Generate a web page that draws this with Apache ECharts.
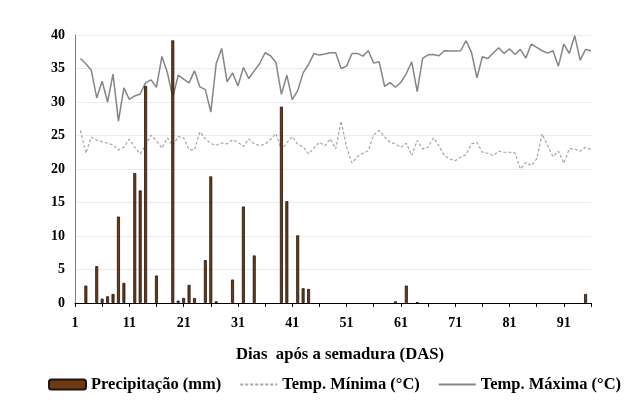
<!DOCTYPE html>
<html><head><meta charset="utf-8">
<script src="https://cdn.jsdelivr.net/npm/echarts@6/dist/echarts.min.js"></script>
<style>html,body{margin:0;padding:0;background:#fff}#c{width:636px;height:405px}</style>
</head><body><div id="c"></div>
<script>
const days = ['1','2','3','4','5','6','7','8','9','10','11','12','13','14','15','16','17','18','19','20',
'21','22','23','24','25','26','27','28','29','30','31','32','33','34','35','36','37','38','39','40',
'41','42','43','44','45','46','47','48','49','50','51','52','53','54','55','56','57','58','59','60',
'61','62','63','64','65','66','67','68','69','70','71','72','73','74','75','76','77','78','79','80',
'81','82','83','84','85','86','87','88','89','90','91','92','93','94','95','96'];

const precipitacao = [
null,null,2.6,null,5.5,0.65,1.0,1.35,12.9,3.0,
null,19.4,16.8,32.4,null,4.1,null,null,39.2,0.35,
0.75,2.7,0.75,null,6.4,18.9,0.25,null,null,3.5,
null,14.4,null,7.1,null,null,null,null,29.3,15.2,
null,10.1,2.2,2.1,null,null,null,null,null,null,
null,null,null,null,null,null,null,null,null,0.25,
null,2.6,null,0.15,null,null,null,null,null,null,
null,null,null,null,null,null,null,null,null,null,
null,null,null,null,null,null,null,null,null,null,
null,null,null,null,1.35,null];

const tempMaxima = [
null,36.5,35.7,34.75,30.6,33.1,30.0,34.15,27.15,32.1,
30.4,30.9,31.2,32.9,33.3,32.2,36.8,34.4,30.7,34.0,
33.4,32.85,34.65,32.25,31.85,28.5,35.75,38.0,33.0,34.35,
32.4,35.15,33.5,34.65,35.75,37.35,36.9,35.9,31.15,34.0,
30.35,31.7,34.35,35.6,37.25,37.0,37.15,37.35,37.35,35.0,
35.35,37.25,37.25,36.85,37.65,35.8,36.0,32.35,32.9,32.2,
32.95,34.25,36.0,31.55,36.5,37.05,37.1,36.9,37.65,37.6,
37.6,37.65,39.15,37.4,33.6,36.75,36.5,37.3,38.1,37.25,
37.95,37.1,37.85,36.55,38.65,38.15,37.65,37.3,37.65,35.35,
38.65,37.25,39.9,36.25,37.85,37.65];

const tempMinima = [
null,25.75,22.35,24.75,24.3,24.05,23.85,23.6,22.85,23.25,
24.45,23.25,22.25,23.55,25.05,24.2,23.1,24.65,23.5,24.85,
24.65,22.9,22.85,25.55,24.5,23.8,23.55,23.9,23.75,24.35,
24.0,23.35,24.5,23.75,23.5,23.7,24.4,25.3,22.9,23.9,
24.85,23.7,23.3,22.25,23.15,24.0,23.45,24.5,23.0,27.15,
23.25,20.9,21.85,22.35,22.75,25.1,25.75,24.75,24.0,23.75,
23.25,23.85,22.0,24.25,23.0,23.25,24.65,23.5,22.0,21.5,
21.25,21.75,22.15,23.75,23.95,22.5,22.35,22.0,22.65,22.5,
22.5,22.4,20.0,21.0,20.5,21.5,25.25,23.5,21.85,22.65,
20.85,23.0,23.0,22.65,23.25,22.9];

const seriesNames = ['Precipitação (mm)', 'Temp. Mínima (°C)', 'Temp. Máxima (°C)'];
const xTitle = 'Dias  após a semadura (DAS)';

const FONT = '"Liberation Serif", "Times New Roman", serif';
const chart = echarts.init(document.getElementById('c'), null, {renderer: 'canvas'});
chart.setOption({
  animation: false,
  backgroundColor: '#fff',
  grid: {left: 75, right: 45, top: 35, bottom: 102, containLabel: false},
  xAxis: {
    type: 'category', data: days, boundaryGap: false,
    axisLine: {lineStyle: {color: '#000', width: 1}},
    axisTick: {interval: 4, length: 4, lineStyle: {color: '#000'}},
    axisLabel: {interval: 9, color: '#000', fontFamily: FONT, fontWeight: 'bold', fontSize: 14, margin: 13},
    splitLine: {show: false}
  },
  yAxis: {
    type: 'value', min: 0, max: 40, interval: 5,
    axisLine: {show: true, lineStyle: {color: '#808080', width: 1}},
    axisTick: {show: false},
    axisLabel: {color: '#000', fontFamily: FONT, fontWeight: 'bold', fontSize: 14, margin: 10},
    splitLine: {lineStyle: {color: '#ebebeb', width: 1}}
  },
  legend: {
    data: [
      {name: seriesNames[0]},
      {name: seriesNames[1], itemStyle: {opacity: 0}},
      {name: seriesNames[2], itemStyle: {opacity: 0}}
    ],
    top: 371, left: 43, width: 595, padding: 5, itemWidth: 37, itemHeight: 10, itemGap: 18,
    textStyle: {color: '#000', fontFamily: FONT, fontWeight: 'bold', fontSize: 16.5}
  },
  graphic: [{
    type: 'text', x: 340, y: 355,
    style: {text: xTitle, align: 'center', verticalAlign: 'middle', fill: '#000',
            font: 'bold 16.7px ' + FONT}
  }],
  series: [
    {name: seriesNames[1], type: 'line', data: tempMinima, symbol: 'none', z: 2,
     lineStyle: {color: '#a6a6a6', width: 1.2, type: [3, 2]}, itemStyle: {color: '#a6a6a6'}},
    {name: seriesNames[2], type: 'line', data: tempMaxima, symbol: 'none', z: 2,
     lineStyle: {color: '#858585', width: 1.5}, itemStyle: {color: '#858585'}},
    {name: seriesNames[0], type: 'bar', data: precipitacao, barWidth: 3, z: 3,
     itemStyle: {color: '#6e3a12', borderColor: '#1e1410', borderWidth: 0.8}}
  ]
});
</script></body></html>
